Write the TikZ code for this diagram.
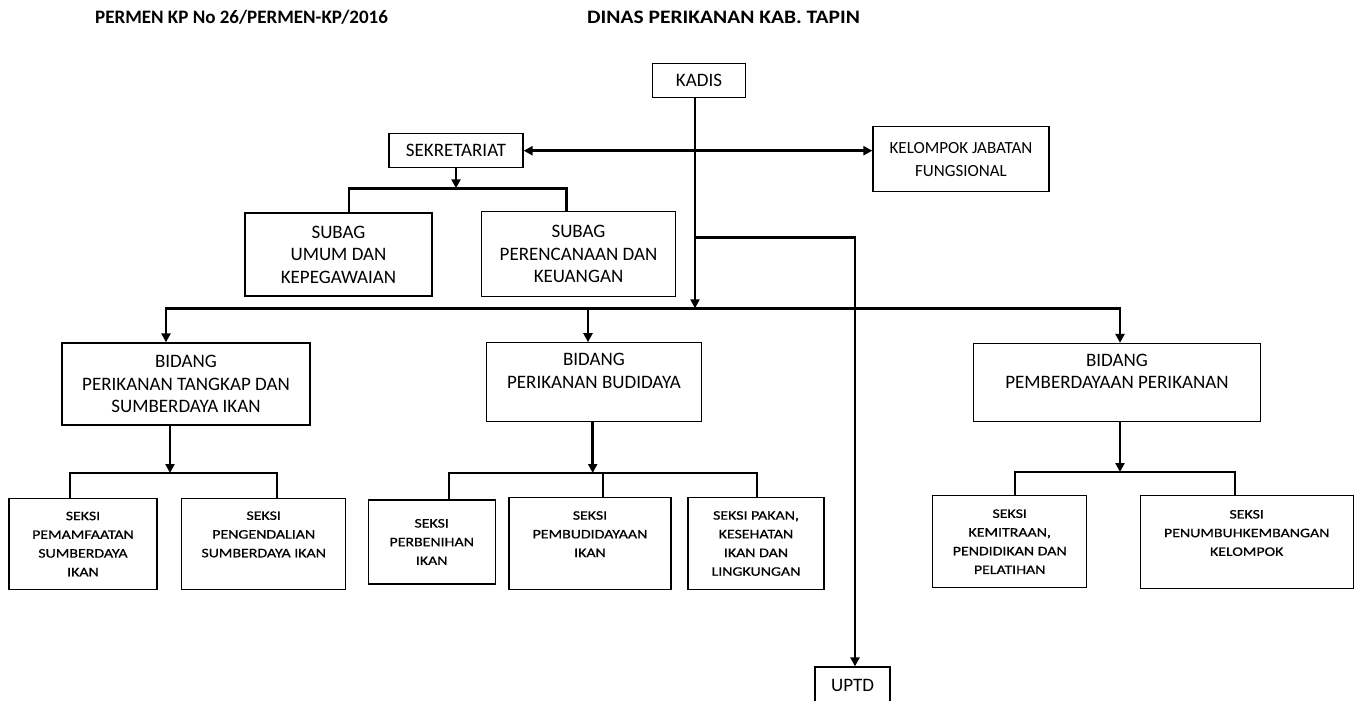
\documentclass[tikz,border=0pt]{standalone}
\usepackage{fontspec}
\setmainfont{Carlito}
\newfontfamily\seksifam{Carlito}[FakeStretch=1.22,FakeBold=0.6]
\newfontfamily\dinasfam{Carlito}[FakeStretch=1.13]
\usetikzlibrary{arrows.meta}
\newcommand\boxfont{\fontsize{19}{22.5}\selectfont}
\newcommand\kjffont{\fontsize{17}{22.7}\selectfont}
\newcommand\seksifont{\seksifam\fontsize{13}{18.7}\selectfont}
\newcommand\judulfont{\bfseries\fontsize{19}{22}\selectfont}

\tikzset{
	box/.style={draw, line width=1.3pt, inner sep=0pt, align=center, font=\boxfont},
	seksi/.style={box, font=\seksifont},
	link/.style={line width=2.9pt},
	arrow/.style={link, -{Triangle[length=9pt,width=9pt]}},
	twoway/.style={link, {Triangle[length=9pt,width=9pt]}-{Triangle[length=9pt,width=9pt]}},
	judul/.style={anchor=base west, inner sep=0pt, font=\judulfont},
}

\begin{document}
\begin{tikzpicture}[x=1pt, y=-1pt]
		%%%%% START %%%%%
		\useasboundingbox (0, 0) rectangle (1363, 701);
		
		\node[judul] (permen) at (95, 24) {PERMEN KP No 26/PERMEN-KP/2016};
		\node[judul] (dinas) at (587, 24) {\dinasfam DINAS PERIKANAN KAB. TAPIN};
		
		% pimpinan
		\node[box, minimum width=93pt, minimum height=34pt] (kadis) at (699, 80.5) {KADIS};
		\node[box, minimum width=134pt, minimum height=34pt] (sekre) at (456, 150.7) {SEKRETARIAT};
		\node[box, font=\kjffont, minimum width=176pt, minimum height=65pt] (kjf) at (961, 159.2) {KELOMPOK JABATAN\\FUNGSIONAL};
		\node[box, minimum width=187pt, minimum height=83pt] (subum) at (338.5, 254.5) {SUBAG\\UMUM DAN\\KEPEGAWAIAN};
		\node[box, minimum width=194pt, minimum height=85pt] (subren) at (578.5, 254.2) {SUBAG\\PERENCANAAN DAN\\KEUANGAN};
		\node[box, minimum width=75pt, minimum height=36pt] (uptd) at (852.5, 685) {UPTD};
		
		% bidang
		\node[box, minimum width=248pt, minimum height=82pt] (bid1) at (186, 384) {BIDANG\\PERIKANAN TANGKAP DAN\\SUMBERDAYA IKAN};
		\node[box, minimum width=215pt, minimum height=79pt] (bid2) at (594, 382.3) {BIDANG\\PERIKANAN BUDIDAYA\\\mbox{}};
		\node[box, minimum width=287pt, minimum height=78pt] (bid3) at (1117, 382.5) {BIDANG\\PEMBERDAYAAN PERIKANAN\\\mbox{}};
		
		% seksi
		\node[seksi, minimum width=148pt, minimum height=91pt] (s11) at (83, 544) {SEKSI\\PEMAMFAATAN\\SUMBERDAYA\\IKAN};
		\node[seksi, minimum width=164pt, minimum height=91pt] (s12) at (263.7, 543.7) {SEKSI\\PENGENDALIAN\\SUMBERDAYA IKAN\\\mbox{}};
		\node[seksi, minimum width=127pt, minimum height=84pt] (s21) at (431.7, 542) {SEKSI\\PERBENIHAN\\IKAN};
		\node[seksi, minimum width=162pt, minimum height=91.6pt] (s22) at (590, 543.5) {SEKSI\\PEMBUDIDAYAAN\\IKAN\\\mbox{}};
		\node[seksi, minimum width=136pt, minimum height=91.6pt] (s23) at (756, 543.5) {SEKSI PAKAN,\\KESEHATAN\\IKAN DAN\\LINGKUNGAN};
		\node[seksi, minimum width=154pt, minimum height=92pt] (s31) at (1009.7, 541.7) {SEKSI\\KEMITRAAN,\\PENDIDIKAN DAN\\PELATIHAN};
		\node[seksi, minimum width=213pt, minimum height=93pt] (s32) at (1246.7, 542.3) {SEKSI\\PENUMBUHKEMBANGAN\\KELOMPOK\\\mbox{}};
		
		% titik cabang
		\coordinate (busL) at (166, 308.3);
		\coordinate (busR) at (1120, 308.3);
		\coordinate (bus2) at (588, 308.3);
		\coordinate (cabang) at (695, 237.3);
		\coordinate (cabuptd) at (855, 237.3);
		\coordinate (sekL) at (349, 188.3);
		\coordinate (sekR) at (566.7, 188.3);
		\coordinate (s1bus) at (170, 473);
		\coordinate (s1L) at (70, 473);
		\coordinate (s1R) at (277, 473);
		\coordinate (s2bus) at (592.7, 473);
		\coordinate (s2L) at (449, 473);
		\coordinate (s2M) at (603, 473);
		\coordinate (s2R) at (757, 473);
		\coordinate (s3bus) at (1120, 472);
		\coordinate (s3L) at (1015, 472);
		\coordinate (s3R) at (1235, 472);
		
		% garis
		\draw[arrow] ([xshift=-4pt]kadis.south) -- ([xshift=-4pt]kadis.south |- busL);
		\draw[twoway] (sekre.east) -- (kjf.west |- sekre.east);
		\draw[arrow] (cabang) -- (cabuptd) -- (cabuptd |- uptd.north);
		
		\draw[arrow] (sekre.south) -- (sekre.south |- sekL);
		\draw[link] (sekL |- subum.north) -- (sekL) -- (sekR) -- (sekR |- subren.north);
		
		\draw[twoway] (busL |- bid1.north) -- (busL) -- (busR) -- (busR |- bid3.north);
		\draw[arrow] (bus2) -- (bus2 |- bid2.north);
		
		\draw[arrow] (bid1.south -| s1bus) -- (s1bus);
		\draw[link] (s1L |- s11.north) -- (s1L) -- (s1R) -- (s1R |- s12.north);
		
		\draw[arrow] (bid2.south -| s2bus) -- (s2bus);
		\draw[link] (s2L |- s21.north) -- (s2L) -- (s2R) -- (s2R |- s23.north);
		\draw[link] (s2M) -- (s2M |- s22.north);
		
		\draw[arrow] (bid3.south -| s3bus) -- (s3bus);
		\draw[link] (s3L |- s31.north) -- (s3L) -- (s3R) -- (s3R |- s32.north);
		
		%%%%% END %%%%%
\end{tikzpicture}
\end{document}
